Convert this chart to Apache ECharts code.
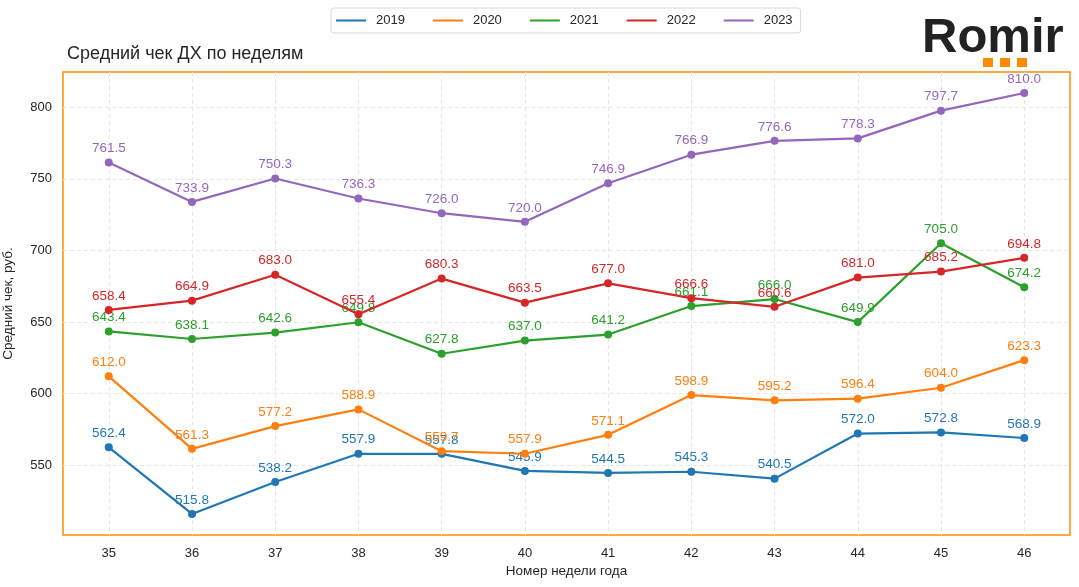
<!DOCTYPE html>
<html><head><meta charset="utf-8">
<script src="https://cdn.jsdelivr.net/npm/echarts@6/dist/echarts.min.js"></script>
<style>html,body{margin:0;padding:0;background:#fff}#c{width:1079px;height:587px}</style>
</head><body><div id="c"></div>
<script>
const weeks = [35,36,37,38,39,40,41,42,43,44,45,46];
const seriesNames = ['2019','2020','2021','2022','2023'];
const v2019 = [562.4,515.8,538.2,557.9,557.8,545.9,544.5,545.3,540.5,572.0,572.8,568.9];
const v2020 = [612.0,561.3,577.2,588.9,559.7,557.9,571.1,598.9,595.2,596.4,604.0,623.3];
const v2021 = [643.4,638.1,642.6,649.8,627.8,637.0,641.2,661.1,666.0,649.9,705.0,674.2];
const v2022 = [658.4,664.9,683.0,655.4,680.3,663.5,677.0,666.6,660.6,681.0,685.2,694.8];
const v2023 = [761.5,733.9,750.3,736.3,726.0,720.0,746.9,766.9,776.6,778.3,797.7,810.0];
const yTicks = [550,600,650,700,750,800];
const colors = ['#1f77b4','#ff7f0e','#2ca02c','#d62728','#9467bd'];
const allVals = [v2019,v2020,v2021,v2022,v2023];

const chart = echarts.init(document.getElementById('c'), null, {renderer:'canvas'});
const FONT = '"Liberation Sans", Arial, sans-serif';
const series = allVals.map((vals,i)=>({
  name: seriesNames[i], type:'line',
  data: vals.map((v,j)=>[weeks[j], v]),
  symbol:'circle', symbolSize:8,
  lineStyle:{width:2.2, color:colors[i]},
  itemStyle:{color:colors[i]},
  label:{show:true, position:'top', distance:3, color:colors[i], fontSize:13.5, fontFamily:FONT,
    formatter:p=>p.value[1].toFixed(1)},
  emphasis:{disabled:true},
  animation:false, z: 2+i
}));
chart.setOption({
  animation:false,
  textStyle:{fontFamily:FONT},
  title:{text:'Средний чек ДХ по неделям', left:62, top:40,
    textStyle:{fontSize:18, fontWeight:'normal', color:'#262626', fontFamily:FONT}},
  legend:{left:331, top:8, itemWidth:30, itemHeight:2, itemGap:28,
    padding:[6,8,6,5],
    borderColor:'#d9d9d9', borderWidth:1, borderRadius:3,
    icon:'rect',
    textStyle:{fontSize:13, color:'#262626', fontFamily:FONT, padding:[0,0,0,5]},
    data: seriesNames},
  grid:{left:63, right:9, top:72, bottom:52, show:true, borderColor:'#ff8c00', borderWidth:1.5,
    backgroundColor:'transparent', containLabel:false, outerBoundsMode:'none'},
  xAxis:{type:'value', min:34.45, max:46.55,
    name:'Номер недели года', nameLocation:'middle', nameGap:29, nameMoveOverlap:false,
    nameTextStyle:{fontSize:13.5, color:'#262626', fontFamily:FONT},
    axisLine:{show:false}, axisTick:{show:false, customValues:weeks},
    axisLabel:{customValues:weeks, fontSize:13, color:'#262626', margin:12, fontFamily:FONT},
    splitLine:{show:true, lineStyle:{color:'#e6e6e6', type:[4,3], width:1}}},
  yAxis:{type:'value', min:501.1, max:824.7,
    name:'Средний чек, руб.', nameLocation:'middle', nameGap:48, nameRotate:90, nameMoveOverlap:false,
    nameTextStyle:{fontSize:13.5, color:'#262626', fontFamily:FONT},
    axisLine:{show:false}, axisTick:{show:false, customValues:yTicks},
    axisLabel:{customValues:yTicks, fontSize:13, color:'#262626', margin:11, fontFamily:FONT},
    splitLine:{show:true, lineStyle:{color:'#e6e6e6', type:[4,3], width:1}}},
  graphic:[
    {type:'text', left:922, top:14, style:{text:'Romir', font:'bold 49px "Liberation Sans", Arial, sans-serif', fill:'#222222'}},
    {type:'rect', shape:{x:983,y:58,width:10,height:9}, style:{fill:'#ff8c00'}},
    {type:'rect', shape:{x:1000,y:58,width:10,height:9}, style:{fill:'#ff8c00'}},
    {type:'rect', shape:{x:1017,y:58,width:10,height:9}, style:{fill:'#ff8c00'}}
  ],
  series: series
});
</script></body></html>
